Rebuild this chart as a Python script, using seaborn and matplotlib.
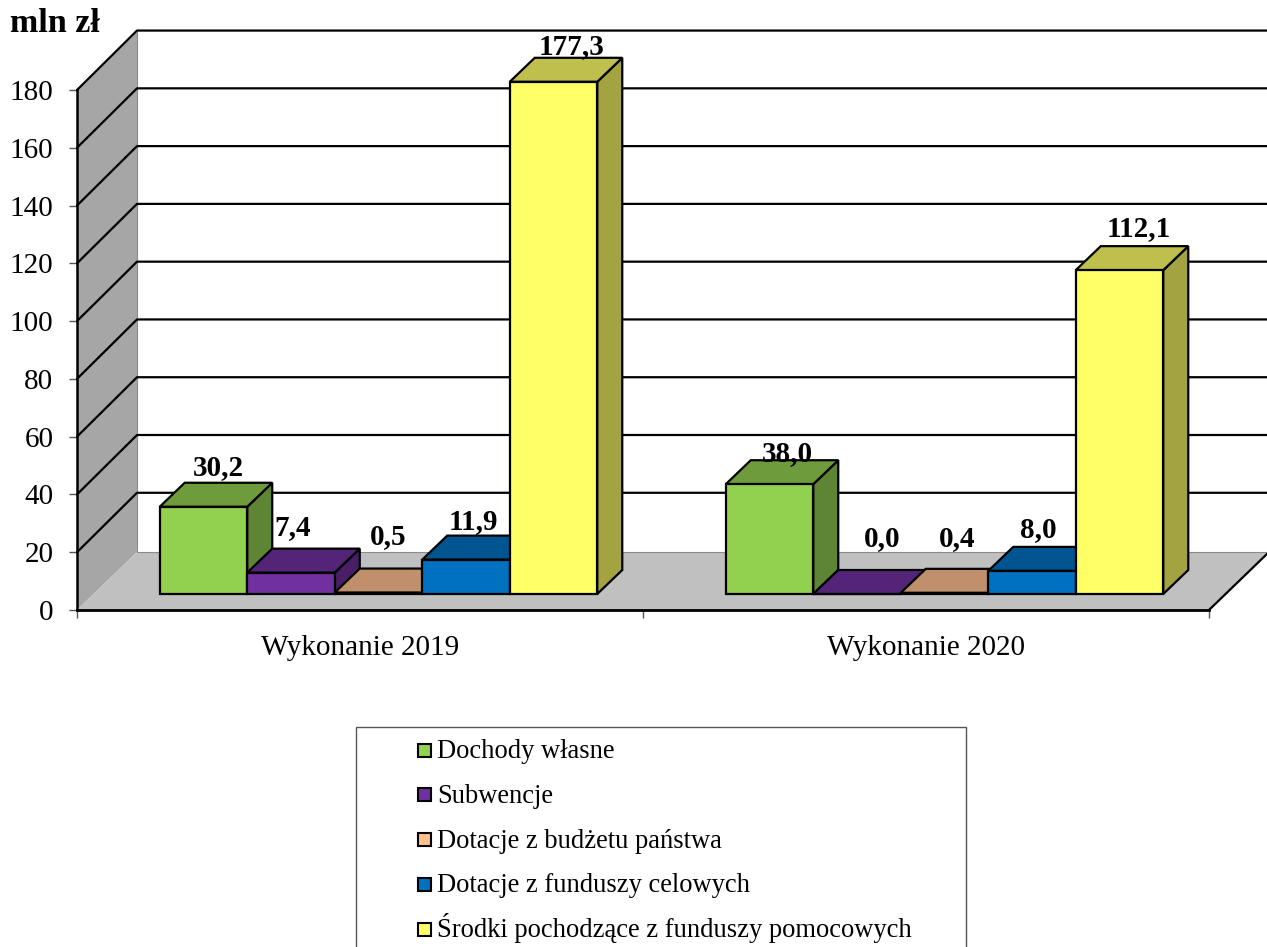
import matplotlib
matplotlib.use("Agg")
import matplotlib.pyplot as plt
import numpy as np
import pandas as pd
import seaborn as sns
from matplotlib.colors import to_rgb
from matplotlib.patches import Polygon, Rectangle
from matplotlib.transforms import ScaledTranslation

years = ["Wykonanie 2019", "Wykonanie 2020"]
sources = [
    "Dochody własne",
    "Subwencje",
    "Dotacje z budżetu państwa",
    "Dotacje z funduszy celowych",
    "Środki pochodzące z funduszy pomocowych",
]
values_2019 = [30.2, 7.4, 0.5, 11.9, 177.3]
values_2020 = [38.0, 0.0, 0.4, 8.0, 112.1]
y_ticks = [0, 20, 40, 60, 80, 100, 120, 140, 160, 180]
colors = ["#92D050", "#7030A0", "#FFC08F", "#0070C0", "#FFFF66"]

W, H = 1267, 947
DPI = 100

sns.set_theme(style="white")
plt.rcParams["font.family"] = ["Liberation Serif", "DejaVu Serif"]

df = pd.DataFrame({
    "year": np.repeat(years, len(sources)),
    "source": sources * 2,
    "value": values_2019 + values_2020,
})

fig = plt.figure(figsize=(W / DPI, H / DPI), dpi=DPI, facecolor="white")
# axes box = front edge of the floor, 77..1209 px wide, 90..610 px high
ax = fig.add_axes([77 / W, 1 - 610 / H, (1209 - 77) / W, (610 - 90) / H])
ax.patch.set_visible(False)

sns.barplot(data=df, x="year", y="value", hue="source", order=years, hue_order=sources,
            palette=dict(zip(sources, colors)), width=0.773, gap=0, dodge=True,
            edgecolor="black", linewidth=1.6, saturation=1, errorbar=None, legend=False, ax=ax)
ax.set_xlim(-0.5, 1.5)
ax.set_ylim(0, 180)

px_x = 2 / (1209 - 77)
px_y = 180 / (610 - 90)
wall_dx, wall_dy = 60 * px_x, 58 * px_y
bar_dx, bar_dy = 25 * px_x, 24 * px_y

# walls and floor
ax.add_patch(Polygon([(-0.5, 0), (-0.5 + wall_dx, wall_dy), (-0.5 + wall_dx, 180 + wall_dy), (-0.5, 180)],
                     facecolor="#A6A6A6", edgecolor="none", clip_on=False, zorder=0.5))
ax.add_patch(Polygon([(-0.5, 0), (-0.5 + wall_dx, wall_dy), (1.5 + wall_dx, wall_dy), (1.5, 0)],
                     facecolor="#C0C0C0", edgecolor="none", clip_on=False, zorder=0.6))
for v in y_ticks[1:]:
    ax.plot([-0.5, -0.5 + wall_dx, 1.5 + wall_dx], [v, v + wall_dy + 0.5, v + wall_dy + 0.5],
            color="black", lw=1.6, clip_on=False, zorder=0.8)
ax.plot([-0.5 + wall_dx, -0.5 + wall_dx], [wall_dy, 180 + wall_dy], color="#8c8c8c", lw=0.8, clip_on=False, zorder=0.7)
ax.plot([-0.5 + wall_dx, 1.5 + wall_dx], [wall_dy, wall_dy], color="#8c8c8c", lw=0.8, clip_on=False, zorder=0.7)
ax.plot([1.5, 1.5 + wall_dx], [0, wall_dy], color="black", lw=1.6, clip_on=False, zorder=0.9)

# the bars stand a little inside the floor
shift = ax.transData + ScaledTranslation(18.5 / DPI, 16 / DPI, fig.dpi_scale_trans)

# label offsets from the front top of each bar, px (dx, dy)
nudges = [
    [(15, 32), (2, 38), (10, 49), (8, 31), (18, 28)],
    [(18, 23), (26, 48), (13, 47), (7, 34), (20, 34)],
]

for j, container in enumerate(ax.containers):
    face = to_rgb(colors[j])
    top_col = tuple(c * 0.75 for c in face)
    side_col = tuple(c * 0.64 for c in face)
    for i, bar in enumerate(container):
        x0, w, h = bar.get_x(), bar.get_width(), bar.get_height()
        z = 3 + j * 3
        bar.set_transform(shift)
        bar.set_zorder(z + 2)
        bar.set_clip_on(False)
        ax.add_patch(Polygon([(x0 + w, 0), (x0 + w + bar_dx, bar_dy), (x0 + w + bar_dx, h + bar_dy), (x0 + w, h)],
                             facecolor=side_col, edgecolor="black", lw=1.6, transform=shift, clip_on=False, zorder=z))
        ax.add_patch(Polygon([(x0, h), (x0 + bar_dx, h + bar_dy), (x0 + w + bar_dx, h + bar_dy), (x0 + w, h)],
                             facecolor=top_col, edgecolor="black", lw=1.6, transform=shift, clip_on=False, zorder=z + 1))
        dx, dy = nudges[i][j]
        val = f"{h:.1f}".replace(".", ",")
        ax.annotate(val, xy=(x0 + w / 2, h), xytext=(dx + 18, dy + 16), textcoords="offset pixels",
                    ha="center", va="baseline", fontsize=21, fontweight="bold", color="black",
                    annotation_clip=False, zorder=30)

# axes
sns.despine(ax=ax, top=True, right=True)
ax.spines["left"].set_color("black")
ax.spines["left"].set_linewidth(1.8)
ax.spines["bottom"].set_color("black")
ax.spines["bottom"].set_linewidth(2)
ax.set_yticks(y_ticks)
ax.set_yticklabels([str(v) for v in y_ticks])
ax.set_xticks([-0.5, 0.5, 1.5])
ax.set_xticklabels([])
ax.set_xticks([0, 1], labels=years, minor=True)
ax.tick_params(axis="y", left=True, length=6, width=1, color="#555555", labelsize=21, pad=11, labelcolor="black")
ax.tick_params(axis="x", which="major", bottom=True, length=6, width=1, color="#555555")
ax.tick_params(axis="x", which="minor", bottom=False, length=0, labelsize=21, pad=18, labelcolor="black")
ax.set_xlabel("")
ax.set_ylabel("")

fig.text(10 / W, 1 - 32 / H, "mln zł", fontsize=24.5, fontweight="bold", color="black", ha="left", va="baseline")

# legend box runs off the bottom of the picture, rows laid out by hand
# because the accent on the last label would push a real legend's row down
fig.add_artist(Rectangle((356 / W, 1 - 960 / H), (966 - 356) / W, (960 - 727) / H,
                         transform=fig.transFigure, facecolor="white", edgecolor="#555555", lw=1, zorder=-1))
for k, (label, col) in enumerate(zip(sources, colors)):
    base = 758 + k * 44.8
    fig.add_artist(Rectangle((417.5 / W, 1 - (base - 1.5) / H), 13 / W, 13 / H, transform=fig.transFigure,
                             facecolor=col, edgecolor="black", lw=1.5))
    fig.text(437 / W, 1 - base / H, label, fontsize=19.1, color="black", ha="left", va="baseline")

fig.savefig("out.png", dpi=DPI, facecolor="white")
